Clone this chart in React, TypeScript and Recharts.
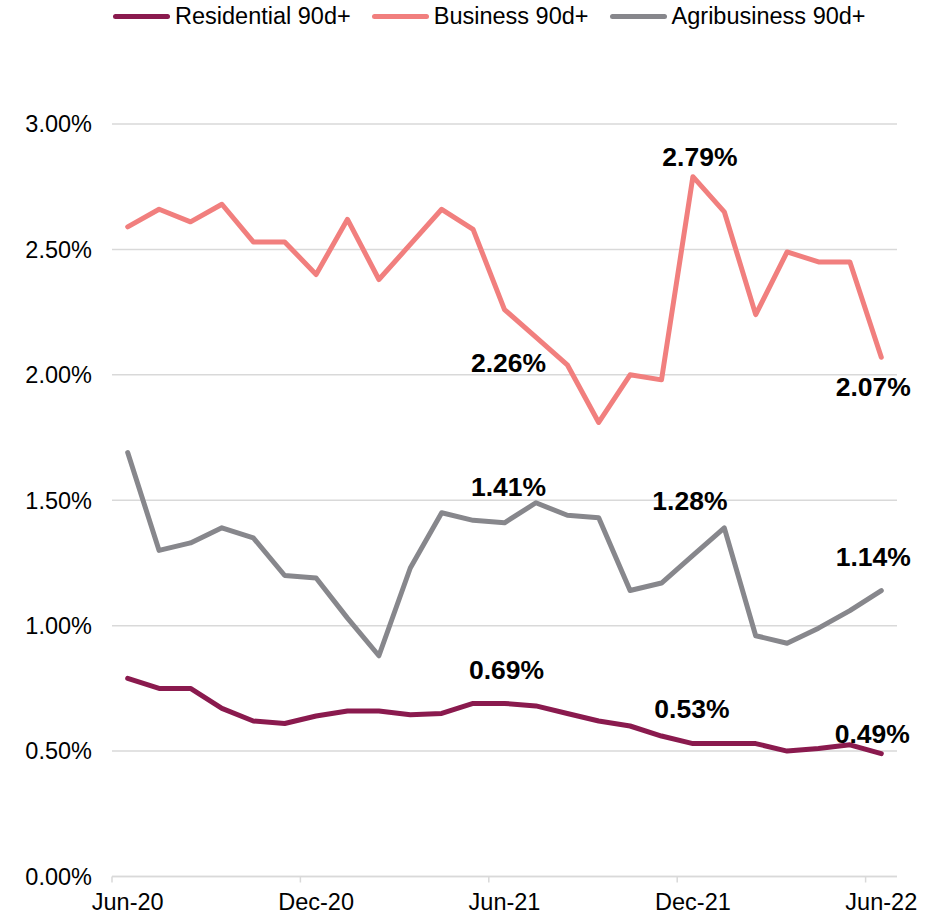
import { CartesianGrid, LabelList, Line, LineChart, XAxis, YAxis } from "recharts";

// monthly 90+ day arrears, % of book
const months = [
  "Jun-20", "Jul-20", "Aug-20", "Sep-20", "Oct-20", "Nov-20", "Dec-20",
  "Jan-21", "Feb-21", "Mar-21", "Apr-21", "May-21", "Jun-21",
  "Jul-21", "Aug-21", "Sep-21", "Oct-21", "Nov-21", "Dec-21",
  "Jan-22", "Feb-22", "Mar-22", "Apr-22", "May-22", "Jun-22",
];
const residential = [
  0.79, 0.75, 0.75, 0.67, 0.62, 0.61, 0.64, 0.66, 0.66, 0.645, 0.65, 0.69, 0.69,
  0.68, 0.65, 0.62, 0.6, 0.56, 0.53, 0.53, 0.53, 0.5, 0.51, 0.525, 0.49,
];
const business = [
  2.59, 2.66, 2.61, 2.68, 2.53, 2.53, 2.4, 2.62, 2.38, 2.52, 2.66, 2.58, 2.26,
  2.15, 2.04, 1.81, 2.0, 1.98, 2.79, 2.65, 2.24, 2.49, 2.45, 2.45, 2.07,
];
const agribusiness = [
  1.69, 1.3, 1.33, 1.39, 1.35, 1.2, 1.19, 1.03, 0.88, 1.23, 1.45, 1.42, 1.41,
  1.49, 1.44, 1.43, 1.14, 1.17, 1.28, 1.39, 0.96, 0.93, 0.99, 1.06, 1.14,
];
const yTicks = [0, 0.5, 1, 1.5, 2, 2.5, 3];

const WIDTH = 945;
const HEIGHT = 916;
const MARGIN = { top: 124, right: 48, bottom: 0, left: 0 };
const Y_AXIS_W = 112;
const X_AXIS_H = 39.5;
const SLOT = (WIDTH - MARGIN.left - MARGIN.right - Y_AXIS_W) / months.length;
const FONT = '"Liberation Sans", Arial, sans-serif';
const GRID = "#D9D9D9";

// label placement per point index: [dx, dy] from the point, dy to text baseline
const series = [
  {
    key: "residential",
    name: "Residential 90d+",
    color: "#8A1A4E",
    labels: { 12: [2, -24], 18: [-1, -26], 24: [-9, -11] } as Record<number, number[]>,
  },
  {
    key: "business",
    name: "Business 90d+",
    color: "#F17F7E",
    labels: { 12: [4, 62], 18: [7, -11], 24: [-8, 39] } as Record<number, number[]>,
  },
  {
    key: "agribusiness",
    name: "Agribusiness 90d+",
    color: "#87878C",
    labels: { 12: [4, -27], 18: [-3, -45], 24: [-8, -25] } as Record<number, number[]>,
  },
];

const data = months.map((month, i) => ({
  month,
  residential: residential[i],
  business: business[i],
  agribusiness: agribusiness[i],
}));

const pct = (v: number) => `${Number(v).toFixed(2)}%`;

function MonthTick({ x, y, payload }: any) {
  const edge = x - SLOT / 2;
  return (
    <g>
      <line x1={edge} x2={edge} y1={y} y2={y + 6} stroke={GRID} strokeWidth={1.5} />
      <text x={x} y={y + 33.5} textAnchor="middle" fontFamily={FONT} fontSize={23.5} fill="#000">
        {payload.value}
      </text>
    </g>
  );
}

const pointLabel = (labels: Record<number, number[]>) => (props: any) => {
  const { x, y, value, index } = props;
  const off = labels[index];
  if (!off) return null;
  return (
    <text
      x={x + off[0]}
      y={y + off[1]}
      textAnchor="middle"
      fontFamily={FONT}
      fontWeight={700}
      fontSize={26.5}
      fill="#000"
    >
      {pct(value)}
    </text>
  );
};

export default function App() {
  return (
    <div
      style={{
        position: "absolute",
        left: 0,
        top: 0,
        width: WIDTH,
        height: HEIGHT,
        background: "#fff",
        fontFamily: FONT,
      }}
    >
      <div
        style={{
          position: "absolute",
          top: 2,
          left: 113,
          height: 28,
          display: "flex",
          alignItems: "center",
          gap: 21,
          fontSize: 23.5,
          color: "#000",
          whiteSpace: "nowrap",
        }}
      >
        {series.map((s) => (
          <div key={s.key} style={{ display: "flex", alignItems: "center", gap: 5 }}>
            <span
              style={{ display: "inline-block", width: 57, height: 5, borderRadius: 3, background: s.color }}
            />
            <span>{s.name}</span>
          </div>
        ))}
      </div>

      <LineChart width={WIDTH} height={HEIGHT} data={data} margin={MARGIN}>
        <CartesianGrid vertical={false} stroke={GRID} strokeWidth={1.5} />
        <XAxis
          dataKey="month"
          height={X_AXIS_H}
          interval={5}
          padding={{ left: SLOT / 2, right: SLOT / 2 }}
          axisLine={{ stroke: GRID, strokeWidth: 1.5 }}
          tickLine={false}
          tickSize={0}
          tickMargin={0}
          tick={<MonthTick />}
        />
        <YAxis
          width={Y_AXIS_W}
          domain={[0, 3]}
          ticks={yTicks}
          axisLine={false}
          tickLine={false}
          tickSize={0}
          tickMargin={20}
          tickFormatter={pct}
          tick={{ fontSize: 23.5, fill: "#000", fontFamily: FONT }}
        />
        {series.map((s) => (
          <Line
            key={s.key}
            type="linear"
            dataKey={s.key}
            name={s.name}
            stroke={s.color}
            strokeWidth={5}
            strokeLinejoin="round"
            strokeLinecap="round"
            dot={false}
            activeDot={false}
            isAnimationActive={false}
          >
            <LabelList dataKey={s.key} content={pointLabel(s.labels)} />
          </Line>
        ))}
      </LineChart>
    </div>
  );
}
